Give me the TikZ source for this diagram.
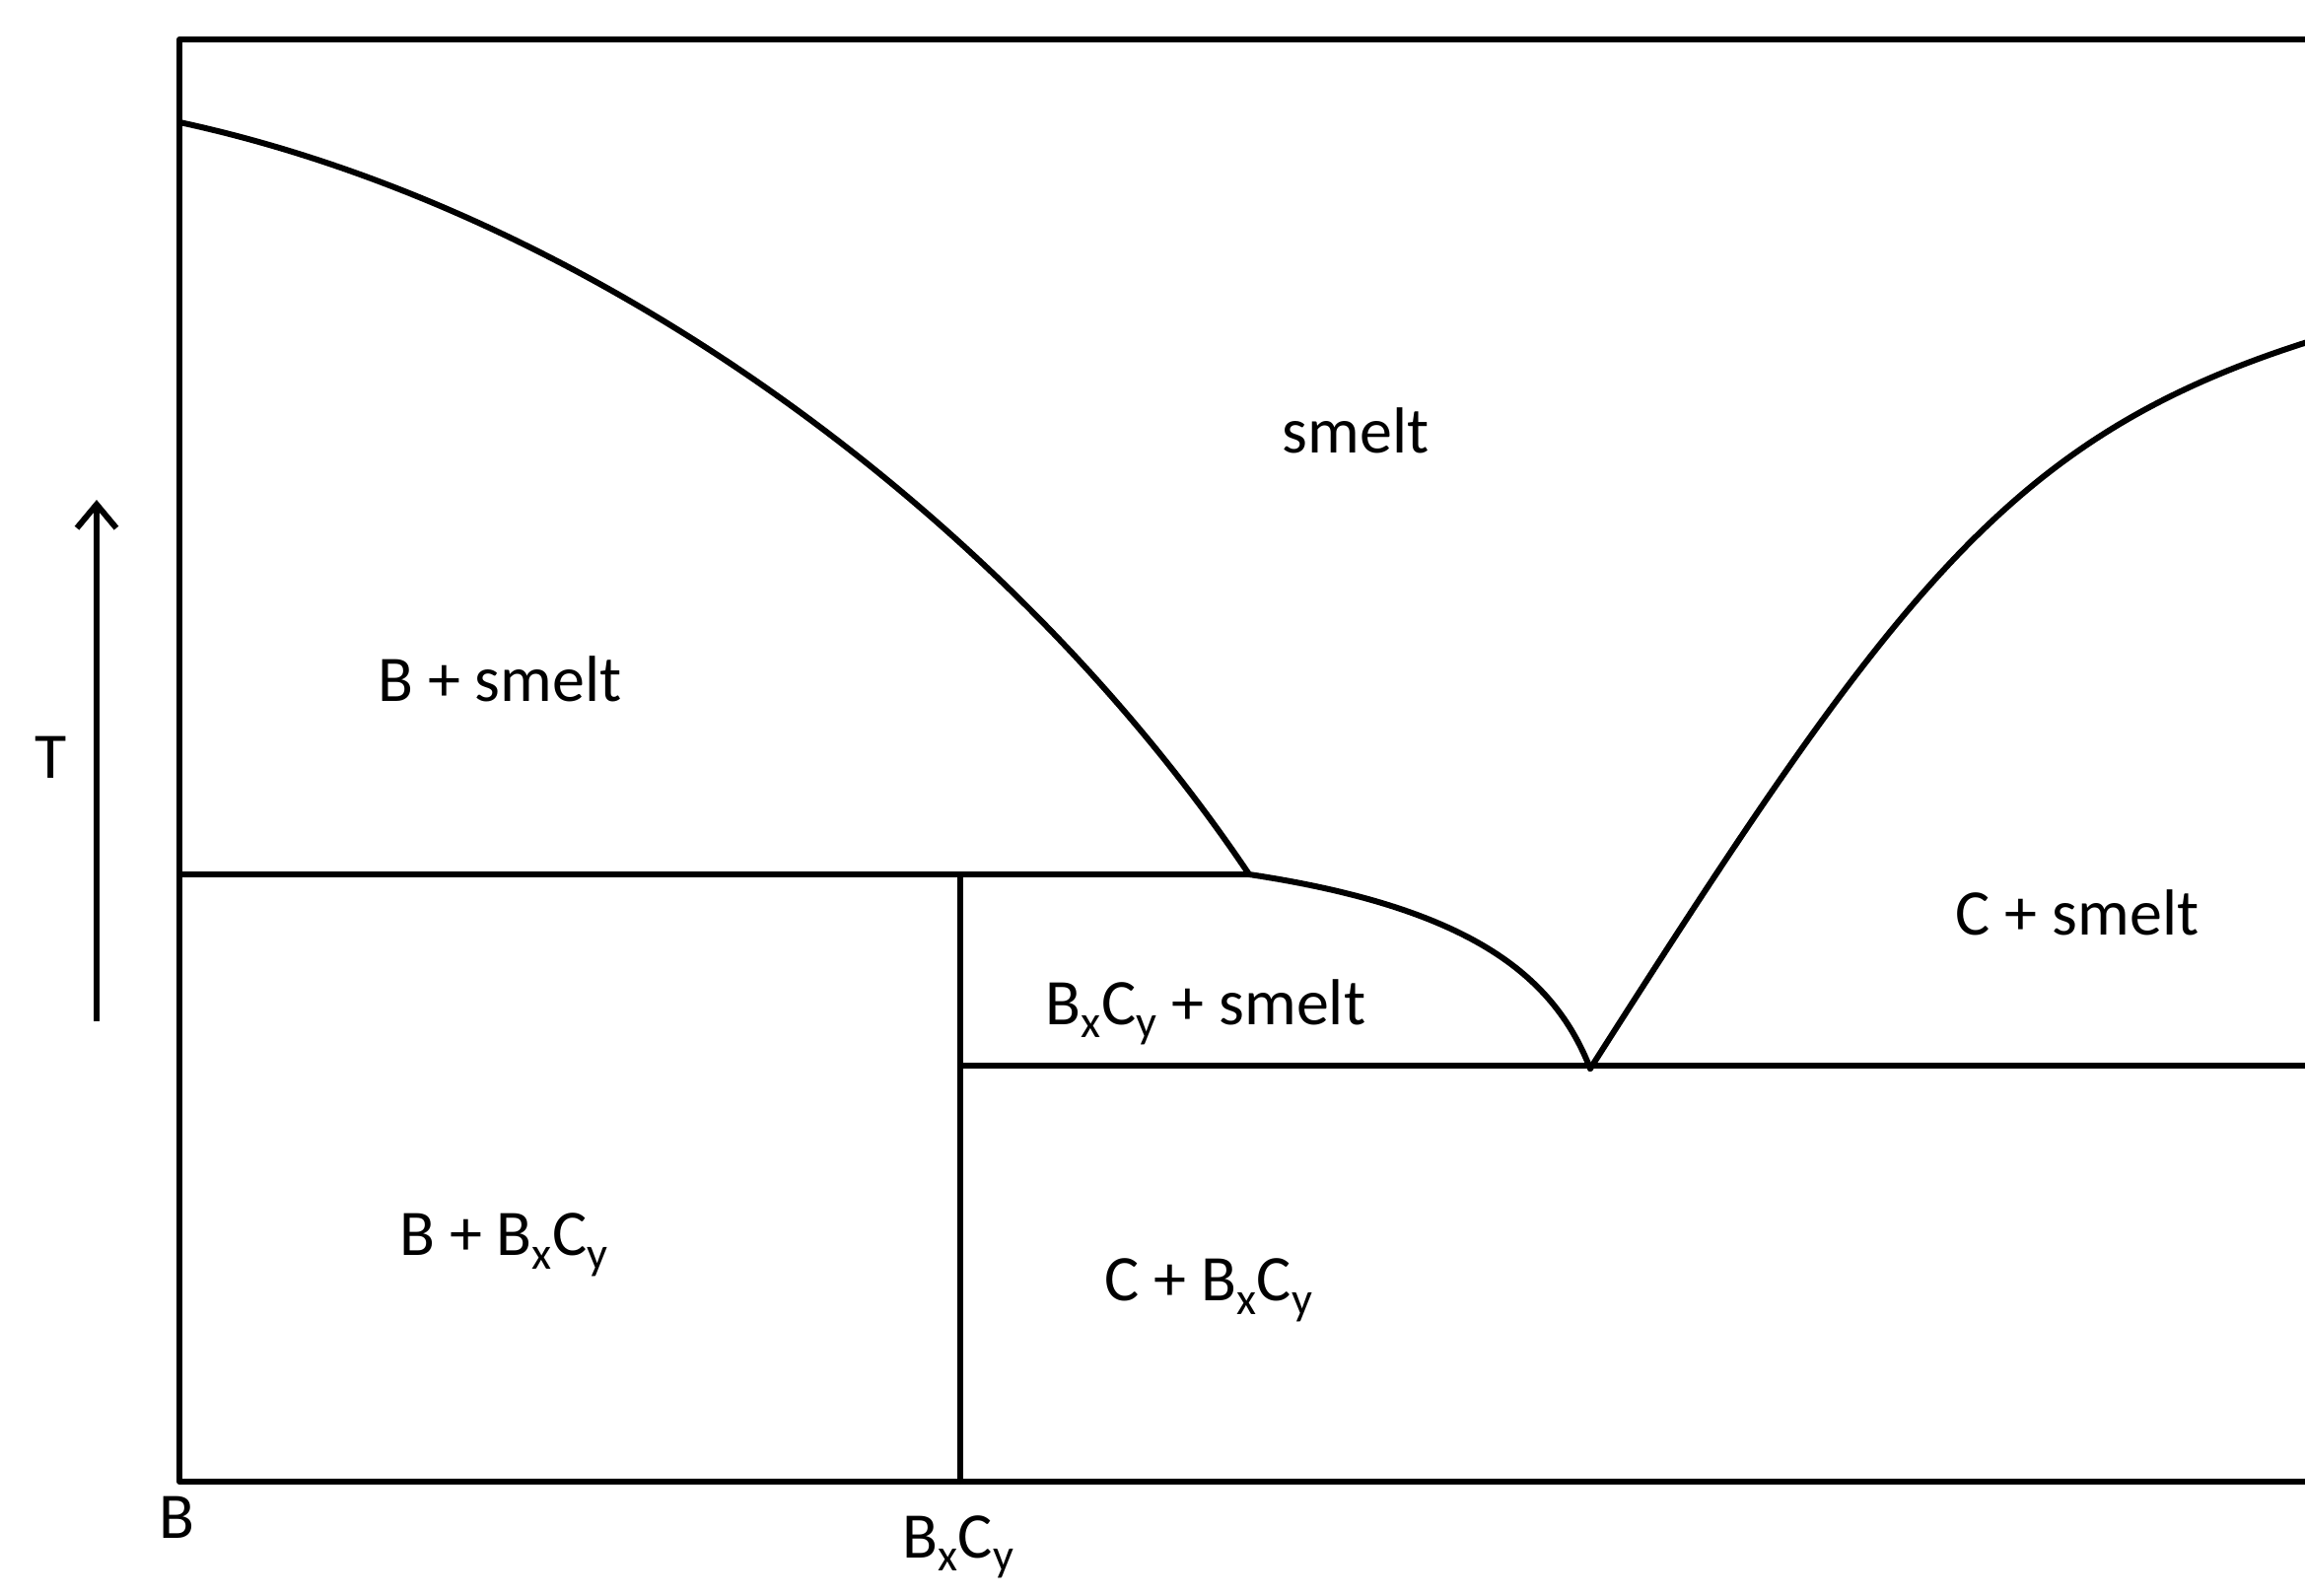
\documentclass[tikz,border=0pt]{standalone}
\usepackage{fontspec}
\setmainfont{Carlito}
\usetikzlibrary{arrows.meta}
\tikzset{
  phase/.style={line width=6pt, line cap=round, line join=round},
  lbl/.style={inner sep=0pt, font=\fontsize{66}{74}\selectfont},
}
\newcommand{\bxcy}{B\textsubscript{x}C\textsubscript{y}}
\begin{document}
\begin{tikzpicture}[x=1pt,y=-1pt]
\useasboundingbox[fill=white] (0,0) rectangle (2338,1619);
% key points
\coordinate (tl) at (182,40);
\coordinate (bl) at (182,1503);
\coordinate (tr) at (2350,40);
\coordinate (br) at (2350,1503);
\coordinate (mB) at (182,124);
\coordinate (per) at (1267,887);
\coordinate (perL) at (182,887);
\coordinate (cTop) at (974,887);
\coordinate (cBot) at (974,1503);
\coordinate (eut) at (1613,1084);
\coordinate (eutL) at (974,1081);
\coordinate (eutR) at (2350,1081);
\coordinate (mC) at (2350,344);
% frame (right side cut off)
\draw[phase] (tr) -- (tl) -- (bl) -- (br);
% left liquidus
\draw[phase] (mB) .. controls (600,214) and (1020,520) .. (per);
% peritectic horizontal
\draw[phase] (perL) -- (per);
% compound vertical
\draw[phase] (cTop) -- (cBot);
% lower liquidus to eutectic
\draw[phase] (per) .. controls (1500,922) and (1578,995) .. (eut);
% eutectic horizontal
\draw[phase] (eutL) -- (eutR);
% right liquidus
\draw[phase] (eut) .. controls (1925,595) and (2040,440) .. (mC);
% temperature arrow
\coordinate (ta) at (98,1036);
\coordinate (tb) at (98,507);
\draw[line width=6pt, -{Straight Barb[length=24pt,width=40pt,line width=6pt]}] (ta) -- (tb);
\node[lbl] (T) at (52,768) {T};
% region labels
\node[lbl] (smelt) at (1375,437) {smelt};
\node[lbl] (bsmelt) at (507,689) {B + smelt};
\node[lbl] (csmelt) at (2107,926) {C + smelt};
\node[lbl] (bxcysmelt) at (1223,1027) {\bxcy{} + smelt};
\node[lbl] (bbxcy) at (511,1263) {B + \bxcy};
\node[lbl] (cbxcy) at (1226,1309) {C + \bxcy};
% axis labels
\node[lbl] (B) at (179,1539) {B};
\node[lbl, anchor=base] (BxCy) at (972,1580) {\bxcy};
\end{tikzpicture}
\end{document}
